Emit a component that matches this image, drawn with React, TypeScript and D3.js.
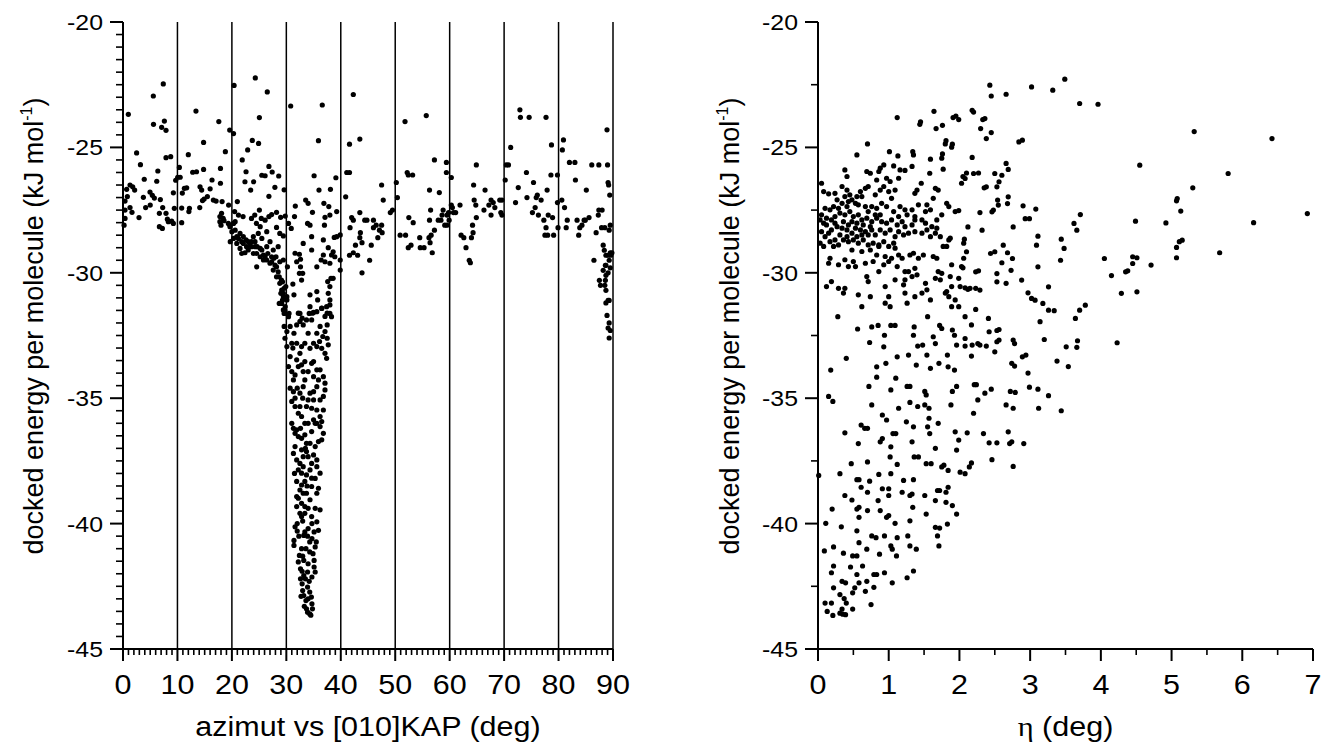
import React from 'react';
import * as d3 from 'd3';

// ---- data (x, docked energy in kJ/mol) ----

// left panel: azimut 0-30 deg
const azimutLow: [number, number][] = [
  [7.4,-22.47],[20.4,-22.53],[24.3,-22.23],[5.57,-22.95],[0.98,-23.68],[5.6,-24.08],[7.6,-23.95],[7.1,-24.2],[7.9,-24.32],
  [13.4,-23.55],[17.6,-23.97],[19.6,-24.31],[20.3,-24.45],[25.05,-23.81],[26.5,-22.79],[14.8,-24.8],[23.75,-24.72],[24.9,-24.84],
  [22.9,-25.1],[18.8,-25.17],[21.9,-25.5],[2.5,-25.22],[3.2,-25.69],[7.9,-25.41],[8.76,-25.37],[12.0,-25.29],[6.4,-25.94],
  [3.9,-26.27],[6.2,-26.35],[10.35,-25.8],[10.5,-26.19],[12.8,-25.99],[13.5,-25.97],[14.8,-25.88],[16.35,-26.3],[17.9,-25.84],
  [17.9,-26.43],[22.6,-25.97],[22.4,-26.37],[24.0,-26.37],[25.5,-26.11],[26.1,-26.13],[26.8,-25.76],[27.4,-25.98],[28.6,-26.14],
  [27.9,-26.59],[29.6,-26.69],[23.45,-26.7],[26.8,-26.95],[1.29,-26.5],[1.78,-26.57],[2.14,-26.7],[0.67,-26.67],[0.8,-26.96],
  [0.37,-27.14],[3.74,-26.99],[4.96,-26.78],[5.39,-26.91],[5.76,-27.02],[6.86,-27.08],[4.16,-27.4],[5.0,-27.3],[1.29,-27.4],
  [1.65,-27.59],[0.37,-27.5],[0.37,-27.83],[0.2,-28.1],[2.94,-27.8],[6.68,-28.16],[7.23,-28.23],[7.29,-27.4],[6.68,-27.63],
  [7.9,-27.63],[8.15,-27.86],[8.33,-27.96],[8.94,-27.94],[9.25,-28.03],[9.43,-27.43],[9.25,-26.81],[9.68,-26.31],[10.05,-26.19],
  [10.9,-26.82],[11.27,-26.63],[11.7,-26.61],[10.78,-27.42],[12.1,-27.56],[12.2,-27.43],[10.78,-28.0],[14.15,-26.57],[14.45,-26.7],
  [14.9,-27.06],[15.5,-26.96],[14.6,-27.12],[16.0,-26.65],[16.6,-27.1],[17.1,-27.14],[14.1,-27.4],[18.2,-27.16],[19.4,-27.3],
  [21.0,-27.16],[18.1,-27.63],[17.8,-27.76],[18.0,-28.1],[18.55,-27.92],[19.35,-28.03],[19.65,-28.16],[19.7,-28.76],[22.05,-27.76],
  [20.5,-27.56],[21.2,-27.7],[23.6,-27.83],[24.2,-27.7],[25.05,-27.5],[25.4,-27.83],[24.5,-28.03],[25.2,-28.16],[26.1,-27.9],
  [26.8,-27.76],[27.3,-27.68],[28.2,-27.59],[28.95,-27.79],[29.45,-28.53],[29.8,-27.74],
  [20.3,-28.03],[20.6,-28.3],[20.9,-28.56],[21.5,-28.43],[22.1,-28.83],[22.7,-28.96],[23.3,-28.83],[23.95,-28.56],[23.6,-28.76],
  [24.25,-28.96],[24.55,-29.23],[25.2,-29.36],[25.8,-29.49],[26.4,-29.49],[27.0,-29.62],[27.6,-29.89],[27.9,-29.69],[28.2,-30.16],
  [28.5,-29.96],[28.8,-30.42],[29.15,-30.69],[29.45,-30.95],[29.15,-31.22],[29.75,-31.49],[21.5,-29.03],[21.8,-29.23],[22.4,-29.2],
  [23.0,-29.09],[24.85,-28.43],[25.5,-28.63],[26.4,-28.36],[27.0,-28.76],[27.6,-29.09],[28.1,-29.36],[28.5,-28.96],[28.8,-29.56],
  [29.45,-29.49],[26.4,-28.96],[25.2,-29.03],[27.3,-29.36],[24.55,-29.76],[25.8,-29.29],[23.95,-29.23],[20.9,-28.83],[20.6,-27.96],
  [20.0,-28.36],[28.8,-28.43],[28.2,-28.19],[21.2,-28.63],[22.1,-28.56],[23.0,-28.76],[23.6,-28.96],[24.25,-28.76],[24.65,-28.96],
  [25.5,-29.09],[26.1,-29.36],[26.6,-29.23],[27.3,-29.56],[27.7,-29.42],[28.2,-29.76],[28.7,-30.16],[29.3,-30.36],[29.6,-30.62],
  [29.0,-30.82],[29.3,-31.09],[28.7,-31.22],[21.8,-28.76],[22.6,-28.69],[20.3,-28.63],[19.65,-28.1],[17.8,-27.96],[18.4,-27.83],
  [29.1,-30.29],[29.45,-30.82],[29.8,-31.35],[29.6,-31.62],
];

// left panel: the dip between 30 and 40 deg
const azimutDip: [number, number][] = [
  [30.8,-23.35],[36.6,-23.31],[35.9,-24.73],[35.1,-26.13],[39.1,-26.21],[36.0,-26.7],[38.1,-26.67],[31.65,-27.34],[33.55,-27.1],
  [34.0,-27.23],[36.9,-27.23],[37.8,-27.36],[34.8,-27.59],[31.5,-27.76],[30.4,-28.03],[30.9,-28.23],[37.1,-27.79],[38.0,-27.7],
  [39.25,-27.56],[33.9,-28.03],[34.35,-28.1],[37.0,-28.1],[34.65,-28.56],[33.1,-28.83],[36.8,-28.69],[38.8,-28.59],[39.25,-28.56],
  [39.9,-28.49],[34.65,-29.09],[37.7,-29.0],[38.3,-29.29],[38.9,-29.36],[38.6,-29.16],[36.8,-29.29],[36.4,-29.49],[37.1,-29.56],
  [38.0,-29.62],[39.9,-29.49],[39.9,-29.89],[35.6,-29.76],[31.6,-29.22],[32.4,-29.26],[31.9,-29.56],[32.6,-29.46],[32.6,-29.76],
  [32.4,-30.02],[32.8,-30.29],[33.0,-30.02],[31.2,-30.45],[31.4,-30.88],[30.5,-31.62],[32.5,-31.62],[34.35,-30.88],[35.6,-30.75],
  [35.75,-31.08],[36.5,-31.42],[35.0,-31.58],[34.2,-31.62],[37.6,-30.35],[38.2,-30.22],[38.6,-30.22],[38.0,-30.55],[37.7,-30.82],
  [38.0,-31.08],[37.4,-31.35],[38.0,-31.62],[38.3,-31.75],[30.2,-29.76],[29.9,-30.55],[30.1,-30.95],[30.1,-31.08],[30.4,-31.75],
  [29.75,-31.61],[29.6,-32.14],[30.1,-32.34],[30.7,-32.14],[31.4,-32.41],[31.9,-32.08],[32.5,-31.94],[32.9,-31.81],[32.2,-31.61],
  [34.35,-31.35],[34.8,-31.61],[35.6,-31.55],[36.5,-31.41],[37.1,-31.74],[37.5,-31.61],[38.0,-31.28],[37.5,-32.08],[37.1,-32.34],
  [36.7,-32.54],[37.5,-32.61],[37.7,-32.87],[36.1,-32.74],[35.6,-32.94],[36.5,-33.01],[37.1,-33.21],[37.4,-33.41],[35.0,-32.81],
  [33.4,-32.81],[32.8,-32.94],[31.9,-32.81],[30.1,-32.94],[31.0,-32.81],[29.75,-32.61],[30.7,-33.34],[30.4,-33.74],[31.0,-33.94],
  [31.6,-34.07],[31.3,-34.27],[31.9,-33.47],[32.8,-33.67],[33.4,-34.27],[33.4,-33.54],[34.65,-33.61],[35.0,-33.54],[36.2,-33.87],
  [36.8,-34.14],[37.1,-34.4],[37.1,-34.67],[36.8,-34.93],[35.6,-34.54],[35.0,-34.74],[34.35,-34.8],[30.7,-34.6],[31.3,-34.74],
  [31.6,-35.0],[31.0,-35.13],[31.6,-35.33],[32.5,-35.33],[32.2,-35.6],[33.7,-35.33],[34.65,-35.4],[35.6,-35.47],[36.8,-35.47],
  [36.2,-35.73],[36.5,-35.93],[36.2,-36.13],[31.0,-36.0],[31.3,-36.2],[31.6,-36.4],[32.2,-36.53],[32.8,-36.6],[33.4,-36.46],
  [33.7,-36.8],[34.65,-36.33],[35.9,-36.73],[36.5,-36.66],[36.8,-36.4],[31.6,-36.93],[31.3,-37.2],[31.9,-37.46],[32.5,-37.6],
  [33.1,-37.73],[32.8,-37.99],[32.2,-37.86],[31.9,-38.32],[34.0,-37.33],[34.65,-37.6],[35.0,-37.26],[35.6,-37.46],[36.2,-37.99],
  [34.65,-38.19],[33.7,-38.06],[32.5,-38.66],[33.1,-38.79],[32.2,-38.99],[32.8,-39.19],[33.4,-39.32],[31.9,-39.32],[32.5,-39.59],
  [33.4,-39.59],[34.35,-39.05],[35.6,-38.79],[35.9,-38.59],[35.3,-39.39],[36.2,-39.45],[34.65,-39.72],
  [31.2,-33.0],[32.0,-34.6],[33.0,-35.0],[35.3,-36.0],[34.0,-36.0],[32.6,-36.2],[33.5,-37.0],[35.3,-38.2],[33.8,-38.5],
  [31.5,-38.0],[32.0,-40.0],[33.0,-39.9],[34.0,-40.2],[32.3,-40.5],
  [29.45,-31.48],[33.1,-32.08],[33.7,-31.88],[34.65,-31.88],[36.2,-32.14],[35.6,-32.41],[34.0,-32.41],[34.35,-33.01],[32.5,-33.21],
  [32.2,-33.74],[33.1,-33.94],[34.0,-33.94],[35.0,-34.14],[35.6,-33.87],[35.9,-34.27],[33.1,-34.54],[32.5,-34.8],[34.0,-35.07],
  [35.0,-35.07],[36.2,-35.07],[32.8,-35.73],[33.4,-36.0],[35.0,-35.86],[35.6,-36.0],[31.9,-36.26],[34.35,-36.8],[35.3,-36.93],
  [32.8,-37.06],[33.7,-37.13],[33.1,-37.33],[34.35,-37.86],[35.6,-37.73],[33.4,-38.32],[32.8,-38.46],[34.65,-38.52],[33.7,-38.79],
  [31.9,-38.92],[34.0,-39.39],[32.8,-39.72],
];

// left panel: bottom of the dip, below -40
const azimutDipFloor: [number, number][] = [
  [34.7,-40.0],[35.1,-40.33],[33.2,-40.47],[31.4,-40.67],[34.7,-40.6],[32.8,-41.0],[35.3,-40.93],[34.3,-41.13],[32.4,-41.27],
  [33.2,-41.47],[35.1,-41.73],[32.6,-41.8],[33.9,-41.93],[33.2,-42.07],[34.7,-42.13],[32.9,-42.4],[33.9,-42.53],[34.3,-42.73],
  [33.2,-42.87],[33.6,-43.07],[34.7,-43.2],[33.7,-43.4],[34.3,-43.6],[33.9,-43.53],[34.8,-43.4],[31.4,-40.87],[35.9,-40.27],
  [35.6,-39.93],[31.6,-40.13],[33.4,-40.33],[34.3,-40.73],[35.5,-40.73],[32.2,-41.53],[35.1,-41.47],[33.6,-41.0],[33.0,-42.67],
  [32.6,-42.2],[35.3,-41.93],[34.6,-42.93],[32.0,-40.3],[33.9,-40.5],[34.9,-41.2],[33.0,-41.3],[34.0,-41.6],[32.9,-41.9],
  [34.2,-42.3],[33.5,-42.2],[32.7,-42.9],[34.0,-43.0],[33.3,-43.3],[34.5,-43.65],
];

// left panel: azimut 40-90 deg
const azimutHigh: [number, number][] = [
  [42.3,-22.89],[41.6,-24.87],[43.5,-24.67],[40.9,-26.97],[41.1,-26.0],[41.6,-26.0],[42.0,-27.8],[42.3,-27.9],[41.7,-28.2],
  [43.5,-27.6],[44.4,-27.9],[41.6,-29.3],[42.3,-29.2],[43.1,-29.3],[42.7,-28.9],[43.5,-28.6],[43.9,-28.8],[43.6,-28.4],
  [43.9,-30.0],[45.3,-29.5],[45.6,-28.9],[44.8,-27.9],[46.0,-28.2],[46.5,-28.1],[47.1,-28.3],[47.5,-28.1],[46.8,-28.6],
  [47.6,-28.4],[46.0,-27.9],[47.5,-26.5],[47.8,-27.1],[49.1,-27.6],[49.5,-27.5],[50.2,-26.4],[50.4,-27.0],[51.8,-23.97],
  [52.2,-26.0],[52.4,-26.1],[53.2,-26.1],[50.9,-28.5],[51.9,-28.5],[52.5,-27.8],[53.3,-28.0],[52.4,-29.0],[52.9,-28.9],
  [54.5,-28.6],[54.6,-29.0],[55.3,-29.0],[55.7,-23.73],[56.3,-26.7],[56.5,-27.5],[56.3,-27.9],[57.2,-25.5],[58.1,-26.8],
  [56.2,-28.6],[56.6,-28.5],[56.4,-28.8],[56.8,-29.2],[57.2,-28.3],[58.4,-27.9],[58.6,-27.7],[58.8,-27.5],[59.1,-28.1],
  [57.9,-27.9],[59.4,-25.6],[59.4,-26.0],[59.5,-27.7],[59.8,-27.6],[59.9,-27.9],[60.3,-27.3],[60.5,-27.4],[60.3,-26.2],
  [60.7,-27.6],[61.1,-27.6],[59.5,-28.1],[61.9,-27.3],[62.1,-28.5],[62.6,-28.6],[63.0,-29.0],[63.6,-29.5],[63.8,-29.6],
  [64.0,-28.6],[64.3,-28.4],[64.2,-28.1],[64.4,-26.5],[64.9,-25.7],[64.5,-27.1],[64.8,-27.3],[64.9,-27.8],[66.5,-26.7],
  [66.3,-27.5],[67.2,-27.3],[67.6,-27.1],[67.6,-27.7],[68.3,-27.4],[68.0,-27.2],[69.2,-27.1],[69.6,-27.1],[69.4,-27.6],
  [69.6,-27.7],[70.2,-26.3],[70.4,-25.7],[70.8,-25.7],[71.2,-25.0],[72.1,-27.2],[72.6,-26.6],[72.9,-23.5],[73.0,-23.8],
  [74.1,-26.0],[74.6,-23.8],[74.2,-27.0],[75.4,-26.4],[75.9,-27.0],[76.1,-26.9],[75.2,-27.6],[75.7,-27.4],[76.3,-27.7],
  [76.8,-27.1],[77.7,-23.8],[77.3,-27.9],[77.9,-26.7],[78.1,-27.7],[77.7,-28.2],[77.5,-28.5],[78.0,-28.5],[78.9,-27.8],
  [78.7,-24.9],[78.6,-26.1],[79.1,-28.5],[79.8,-26.1],[79.8,-27.2],[79.9,-28.2],[80.9,-24.7],[80.7,-25.1],[80.6,-27.1],
  [81.1,-27.4],[81.6,-27.9],[81.4,-28.2],[82.0,-25.6],[83.0,-25.6],[83.1,-26.3],[83.4,-27.9],[83.9,-28.2],[83.7,-28.5],
  [84.3,-28.1],[84.7,-27.9],[85.1,-26.7],[84.9,-27.9],[85.6,-27.8],[86.1,-25.7],[86.5,-29.5],[86.9,-28.4],[87.4,-25.7],
  [87.3,-27.7],[87.4,-27.5],[87.5,-30.3],[87.7,-30.5],[87.9,-28.2],[88.0,-27.5],[88.2,-28.9],[88.4,-29.1],[88.5,-28.2],
  [88.6,-29.7],[88.7,-30.1],[88.9,-24.3],[89.0,-25.7],[89.1,-26.4],[89.2,-26.5],[89.3,-28.3],[89.4,-26.9],[89.5,-28.1],
  [88.7,-29.3],[89.1,-29.3],[89.5,-29.2],[89.3,-29.5],[88.7,-29.7],[88.2,-29.9],[88.6,-30.3],[89.1,-30.0],[89.5,-29.8],
  [88.5,-30.5],[88.7,-30.7],[89.1,-31.1],[88.7,-31.2],[89.3,-31.1],[88.9,-31.7],[89.3,-32.0],[89.1,-32.2],[89.5,-32.3],
  [89.3,-32.6],[89.6,-29.3],[89.8,-29.2],
];

// right panel: eta 0-2 deg, energy above -31.5
const etaCore: [number, number][] = [
  [0.70,-24.86],[0.55,-25.3],[1.01,-25.17],[1.13,-25.34],[1.34,-25.17],[1.35,-25.3],[1.59,-25.47],[1.80,-24.86],[1.89,-24.99],
  [1.76,-25.26],[1.75,-25.43],[1.77,-25.87],[2.05,-26.16],[2.03,-26.43],[1.58,-26.03],[1.46,-26.43],[1.33,-25.76],[1.23,-25.92],
  [1.16,-25.9],[1.14,-26.23],[1.07,-25.74],[0.93,-25.7],[0.88,-25.83],[0.83,-26.3],[0.86,-25.96],[0.97,-26.23],[1.02,-26.36],
  [0.74,-26.03],[0.69,-25.96],[0.38,-25.9],[0.41,-26.16],[0.05,-26.43],[0.08,-26.76],[0.15,-26.85],[0.34,-26.56],[0.41,-26.7],
  [0.45,-26.89],[0.48,-27.09],[0.60,-26.76],[0.62,-26.96],[0.67,-26.63],[0.71,-26.56],[0.81,-26.89],[0.88,-26.7],[0.93,-26.56],
  [1.0,-26.76],[1.04,-27.03],[1.09,-26.7],[1.37,-26.83],[1.40,-26.7],[1.66,-26.63],[1.70,-26.7],[1.63,-27.03],[1.54,-27.29],
  [1.42,-27.29],[1.82,-27.23],[1.85,-27.36],[1.94,-27.56],[1.99,-27.52],[1.75,-27.69],[1.59,-27.49],[1.52,-27.56],[1.33,-27.49],
  [1.23,-27.49],[1.26,-27.69],[1.37,-27.76],[1.16,-27.36],[1.14,-27.76],[1.07,-27.56],[0.97,-27.36],[0.90,-27.23],[0.83,-27.43],
  [0.76,-27.36],[0.71,-27.56],[0.67,-27.36],[0.57,-27.29],[0.53,-27.23],[0.43,-27.16],[0.34,-27.23],[0.27,-27.09],[0.22,-27.36],
  [0.17,-27.49],[0.10,-27.43],[0.03,-27.89],[0.08,-28.02],[0.12,-27.82],[0.19,-27.89],[0.24,-27.76],[0.31,-27.62],[0.38,-27.69],
  [0.45,-27.56],[0.50,-27.76],[0.57,-27.69],[0.62,-27.89],[0.69,-27.82],[0.76,-27.96],[0.83,-27.82],[0.90,-27.96],[0.97,-28.02],
  [1.04,-27.89],[1.12,-28.09],[1.19,-27.96],[1.23,-28.16],[1.33,-28.09],[1.37,-27.89],[1.47,-27.89],[1.52,-28.02],[1.61,-28.16],
  [1.68,-28.22],[1.68,-27.89],[2.06,-28.82],[2.06,-29.42],[2.03,-29.75],[1.89,-29.68],[1.85,-28.69],[1.87,-28.62],[1.82,-28.95],
  [1.77,-28.95],[1.73,-28.56],[1.66,-28.42],[1.59,-28.56],[1.54,-28.29],[1.47,-28.42],[1.37,-28.36],[1.28,-28.42],[1.21,-28.49],
  [1.14,-28.36],[1.09,-28.56],[1.07,-28.82],[1.09,-29.02],[1.02,-28.29],[0.95,-28.42],[0.88,-28.29],[0.81,-28.49],[0.76,-28.29],
  [0.71,-28.49],[0.67,-28.36],[0.60,-28.29],[0.53,-28.22],[0.48,-28.42],[0.41,-28.29],[0.34,-28.22],[0.27,-28.16],[0.19,-28.29],
  [0.15,-28.42],[0.10,-28.56],[0.05,-28.36],[0.03,-28.82],[0.08,-28.95],[0.17,-28.76],[0.24,-28.69],[0.29,-28.89],[0.36,-28.69],
  [0.43,-28.76],[0.50,-28.69],[0.57,-28.82],[0.64,-28.69],[0.71,-28.89],[0.78,-28.82],[0.86,-28.89],[0.93,-28.76],[1.0,-28.95],
  [0.48,-29.09],[0.62,-29.15],[0.74,-29.09],[0.83,-29.29],[0.95,-29.35],[1.04,-29.42],[1.14,-29.29],[1.19,-29.42],[1.30,-29.29],
  [1.35,-29.22],[1.42,-29.42],[1.49,-29.29],[1.63,-29.35],[1.68,-29.42],[0.17,-29.42],[0.15,-29.62],[0.29,-29.68],[0.38,-29.48],
  [0.43,-29.75],[0.50,-29.55],[0.53,-29.75],[0.67,-29.62],[0.78,-29.55],[0.86,-29.95],[0.93,-29.68],[1.0,-29.55],[1.12,-29.75],
  [1.23,-29.95],[1.28,-29.95],[1.37,-29.82],[1.40,-30.08],[1.33,-30.15],[1.23,-30.28],[1.21,-30.48],[1.09,-30.28],[0.95,-30.55],
  [0.69,-30.15],[0.71,-30.35],[0.12,-30.55],[0.19,-30.35],[0.29,-30.62],[0.38,-30.62],[0.36,-30.81],[0.57,-30.88],[0.74,-30.95],
  [0.62,-31.35],[0.95,-31.21],[1.0,-30.95],[1.02,-31.35],[1.23,-30.81],[1.26,-31.21],[1.37,-30.95],[1.47,-30.81],[1.52,-30.42],
  [1.54,-30.68],[1.59,-31.08],[1.66,-30.22],[1.70,-29.95],[1.73,-30.28],[1.75,-30.02],[1.82,-30.75],[1.87,-30.15],[1.89,-30.55],
  [1.99,-30.22],[2.01,-30.55],[1.80,-30.81],[1.85,-30.95],[1.89,-31.35],[1.94,-31.08],
  [0.24,-28.02],[0.36,-27.96],[0.43,-28.09],[0.55,-28.02],[0.64,-28.09],[0.74,-28.16],[0.31,-28.49],[0.41,-28.56],[0.55,-28.56],
  [0.62,-28.49],[0.12,-28.09],[0.05,-27.69],[0.29,-27.43],[0.41,-27.36],[0.48,-27.96],[0.22,-28.95],[0.88,-27.69],[0.81,-27.69],
  [0.38,-26.96],[0.24,-26.83],[0.55,-26.96],[0.86,-28.95],
];

// right panel: top part and the sparse points beyond eta = 2
const etaUpper: [number, number][] = [
  [2.43,-22.52],[2.45,-22.95],[2.66,-22.88],[3.02,-22.59],[3.32,-22.72],[3.49,-22.28],[3.70,-23.25],[3.96,-23.28],[1.12,-23.81],
  [1.45,-23.98],[1.44,-24.08],[1.64,-23.56],[1.67,-24.25],[1.76,-24.12],[1.91,-23.81],[1.95,-23.75],[1.99,-23.89],[2.20,-23.59],
  [2.18,-23.52],[2.33,-23.89],[2.36,-23.85],[2.30,-24.25],[2.38,-24.65],[2.45,-24.41],[2.84,-24.78],[2.89,-24.71],[1.81,-24.73],
  [1.90,-24.87],[5.32,-24.37],[6.42,-24.65],[4.55,-25.71],[5.80,-26.04],[6.92,-27.64],[5.30,-26.61],[5.08,-27.04],[5.07,-27.13],
  [5.13,-27.54],[6.16,-28.0],[5.68,-29.2],[4.49,-27.94],[4.92,-28.01],[5.15,-28.7],[5.11,-28.76],[5.07,-28.99],[5.07,-29.4],
  [4.71,-29.69],[4.51,-29.4],[4.45,-29.63],[4.45,-29.36],[4.38,-29.92],[4.35,-29.96],[4.29,-30.82],[4.51,-30.76],[4.05,-29.43],
  [4.15,-30.11],[4.23,-32.79],[3.71,-27.68],[3.66,-28.3],[3.62,-28.03],[3.44,-28.66],[3.48,-29.03],[3.43,-29.5],[3.26,-30.56],
  [3.11,-29.76],[3.09,-28.9],[3.11,-28.54],[3.08,-27.46],[2.90,-27.33],[2.93,-27.84],[2.99,-27.84],[2.76,-28.17],[2.88,-30.29],
  [2.97,-30.8],[3.02,-31.02],[3.07,-31.09],[3.18,-31.22],[3.26,-31.49],[3.34,-31.51],[3.14,-31.95],[3.2,-32.66],[3.51,-32.95],
  [3.66,-32.97],[3.67,-32.71],[3.64,-31.82],[3.70,-31.49],[3.78,-31.29],[3.38,-33.52],[3.54,-33.74],[2.68,-27.24],[2.69,-26.97],
  [2.66,-25.64],[2.69,-25.88],[2.6,-26.11],[2.5,-26.04],[2.56,-26.37],[2.53,-26.57],[2.38,-26.57],[2.35,-26.61],[2.54,-27.1],
  [2.55,-27.3],[2.48,-27.5],[2.46,-27.57],[2.27,-26.02],[2.29,-27.6],[2.32,-28.3],[2.44,-29.23],[2.5,-29.16],[2.62,-28.9],
  [2.68,-29.2],[2.6,-29.6],[2.75,-29.43],[2.73,-29.9],[2.53,-30.03],[2.53,-30.36],[2.66,-30.42],[2.76,-32.68],[2.78,-32.82],
  [2.94,-33.28],[2.97,-34.0],[2.78,-33.72],[2.56,-32.26],[2.56,-32.68],[2.53,-32.3],[2.41,-31.82],[2.42,-32.35],[2.26,-32.82],
  [2.23,-31.46],[2.17,-32.08],[2.18,-32.88],[2.08,-32.62],[2.08,-31.75],[1.99,-31.35],[2.15,-30.62],[2.23,-30.62],[2.29,-30.69],
  [2.08,-30.6],[2.12,-30.66],[2.23,-29.96],[2.27,-29.92],[2.05,-29.8],[2.1,-29.16],[2.07,-28.66],[2.12,-28.17],[2.08,-26.24],
  [2.1,-26.02],[2.18,-25.4],[2.2,-26.04],
  [0.28,-31.75],[0.4,-33.41],[0.56,-32.24],[0.73,-32.78],[0.76,-32.16],[0.85,-32.1],[0.94,-32.49],[0.93,-32.95],[1.03,-32.1],
  [1.09,-32.1],[1.12,-33.35],[1.28,-33.28],[1.36,-32.16],[1.35,-32.49],[1.41,-32.92],[1.48,-32.88],[1.39,-33.68],[1.54,-33.28],
  [1.55,-31.75],[1.66,-32.82],[1.63,-32.55],[1.72,-32.1],[1.75,-32.22],[1.83,-33.28],[1.84,-33.75],[1.9,-32.28],[1.93,-32.49],
  [1.96,-32.88],[1.93,-33.88],[2.08,-32.92],[2.17,-33.32],[2.29,-32.88],[2.38,-32.92],[2.5,-33.15],[2.53,-32.75],[2.89,-33.35],
  [2.74,-33.61],[1.59,-33.81],[0.18,-33.88],[0.83,-33.75],[0.96,-33.61],[1.71,-33.61],
];

// right panel: energies below -34
const etaLower: [number, number][] = [
  [0.15,-34.93],[0.21,-35.13],[0.72,-34.53],[0.83,-34.16],[1.03,-34.67],[1.1,-34.2],[1.26,-34.53],[1.3,-34.53],[0.76,-35.27],
  [0.91,-35.67],[0.97,-35.87],[1.14,-35.4],[1.25,-35.94],[1.3,-35.17],[1.35,-36.14],[1.41,-35.33],[1.51,-34.73],[1.53,-34.87],
  [1.51,-35.27],[1.57,-35.4],[1.57,-35.8],[1.55,-36.14],[1.7,-36.0],[1.58,-36.41],[1.88,-35.27],[1.9,-34.73],[1.96,-34.53],
  [2.2,-35.6],[2.26,-35.07],[2.36,-34.8],[2.45,-34.64],[2.21,-34.46],[2.24,-34.46],[2.66,-35.27],[2.76,-35.4],[2.72,-34.73],
  [2.79,-34.77],[2.99,-34.56],[3.11,-34.64],[3.26,-34.9],[3.12,-35.4],[3.44,-35.5],[0.61,-36.07],[0.66,-36.2],[0.7,-36.2],
  [0.38,-36.38],[0.57,-36.81],[0.47,-37.61],[0.7,-37.54],[0.91,-36.61],[0.88,-36.74],[1.06,-36.41],[1.1,-36.41],[1.03,-36.94],
  [1.02,-37.34],[1.12,-37.64],[1.33,-36.74],[1.36,-37.34],[1.42,-37.34],[1.53,-37.61],[1.6,-37.61],[1.66,-37.0],[1.75,-37.74],
  [1.78,-37.67],[1.84,-37.88],[1.94,-36.34],[1.99,-36.67],[1.96,-37.07],[2.01,-37.95],[2.08,-38.01],[2.14,-37.74],[2.17,-37.58],
  [2.11,-36.38],[2.34,-36.41],[2.42,-36.78],[2.53,-36.78],[2.46,-37.45],[2.69,-36.34],[2.71,-36.81],[2.74,-36.74],[2.76,-37.72],
  [2.91,-36.81],[0.31,-38.01],[0.01,-38.08],[0.55,-38.25],[0.58,-38.25],[0.73,-38.31],[0.86,-38.04],[1.03,-38.01],[1.21,-38.28],
  [1.35,-38.25],[0.61,-38.55],[0.38,-38.88],[0.48,-39.06],[0.7,-38.75],[0.91,-38.61],[1.0,-38.61],[0.85,-39.08],[1.0,-38.88],
  [1.19,-38.75],[1.3,-38.88],[1.33,-38.82],[1.51,-38.88],[1.69,-38.68],[1.72,-38.68],[1.84,-38.55],[1.81,-38.75],[1.66,-39.08],
  [1.81,-39.15],[1.9,-39.28],[1.96,-39.62],[0.55,-39.42],[0.58,-39.35],[0.7,-39.48],[0.88,-39.48],[1.0,-39.68],[0.97,-39.75],
  [1.09,-39.99],[1.3,-39.89],[1.34,-39.35],[1.53,-39.62],[0.11,-39.99],[0.2,-39.42],[0.33,-40.13],[0.55,-40.29],[0.58,-39.75],
  [0.76,-40.49],[0.82,-40.56],[0.94,-40.49],[1.03,-40.89],[1.12,-40.56],[1.27,-40.49],[1.3,-40.89],[1.39,-41.02],[1.66,-40.15],
  [1.72,-40.18],[1.69,-40.49],[1.71,-40.89],[1.83,-40.02],[0.09,-41.09],[0.22,-40.93],[0.36,-41.18],[0.49,-41.29],[0.55,-41.29],
  [0.58,-40.76],[0.69,-41.02],[0.87,-41.22],[1.05,-41.02],[1.11,-41.29],[0.22,-41.69],[0.19,-41.96],[0.34,-42.3],[0.39,-42.36],
  [0.46,-41.73],[0.55,-42.03],[0.63,-41.69],[0.58,-42.36],[0.69,-42.3],[0.79,-42.03],[0.83,-42.03],[0.94,-41.96],[1.05,-42.36],
  [1.26,-42.16],[1.35,-41.89],[0.22,-42.56],[0.49,-42.76],[0.52,-42.56],[0.31,-42.83],[0.37,-42.99],[0.4,-43.17],[0.67,-42.7],
  [0.79,-42.54],[0.75,-43.23],[0.1,-43.17],[0.19,-43.17],[0.13,-43.5],[0.21,-43.66],[0.31,-43.57],[0.35,-43.61],[0.39,-43.63],
  [0.49,-43.41],[0.34,-43.41],
];

const energyTicks = [-20, -25, -30, -35, -40, -45];
const azimutTicks = [0, 10, 20, 30, 40, 50, 60, 70, 80, 90];
const etaTicks = [0, 1, 2, 3, 4, 5, 6, 7];

const FONT = "'Liberation Sans', Arial, Helvetica, sans-serif";
const PLOT_TOP = 22;
const PLOT_BOTTOM = 649;
// the reference figure is slightly stretched sideways
const STRETCH = 1.13;

const energyScale = d3.scaleLinear().domain([-20, -45]).range([PLOT_TOP, PLOT_BOTTOM]);
const azimutScale = d3.scaleLinear().domain([0, 90]).range([123, 613]);
const etaScale = d3.scaleLinear().domain([0, 7]).range([818, 1313]);

const Dots = ({ points, x }: { points: [number, number][]; x: d3.ScaleLinear<number, number> }) => (
  <g fill="#000">
    {points.map((p, i) => (
      <circle key={i} cx={x(p[0])} cy={energyScale(p[1])} r={2.6} />
    ))}
  </g>
);

const Label = ({ x, y, size, anchor = 'middle', children }: {
  x: number; y: number; size: number; anchor?: string; children: React.ReactNode;
}) => (
  <g transform={`translate(${x},${y}) scale(${STRETCH},1)`}>
    <text textAnchor={anchor} fontSize={size} fontFamily={FONT}>{children}</text>
  </g>
);

const EnergyAxis = ({ x0, minorStep, titleX }: { x0: number; minorStep: number; titleX: number }) => {
  const minors = d3.range(-20, -45.001, -minorStep).filter(v => !energyTicks.includes(Math.round(v * 100) / 100));
  return (
    <g>
      <line x1={x0} x2={x0} y1={PLOT_TOP} y2={PLOT_BOTTOM} stroke="#000" strokeWidth={2} />
      {minors.map(v => (
        <line key={v} x1={x0 - 7} x2={x0} y1={energyScale(v)} y2={energyScale(v)} stroke="#000" strokeWidth={1.6} />
      ))}
      {energyTicks.map(v => (
        <g key={v}>
          <line x1={x0 - 13} x2={x0} y1={energyScale(v)} y2={energyScale(v)} stroke="#000" strokeWidth={2} />
          <Label x={x0 - 20} y={energyScale(v) + 8} size={22} anchor="end">{v}</Label>
        </g>
      ))}
      <text transform={`translate(${titleX},326) rotate(-90)`} textAnchor="middle" fontSize={27} fontFamily={FONT}>
        docked energy per molecule (kJ mol<tspan dy={-11} fontSize={16}>-1</tspan><tspan dy={11}>)</tspan>
      </text>
    </g>
  );
};

const BottomAxis = ({ x, ticks, minors, title }: {
  x: d3.ScaleLinear<number, number>; ticks: number[]; minors: number[]; title: React.ReactNode;
}) => {
  const [r0, r1] = x.range();
  return (
    <g>
      <line x1={r0} x2={r1} y1={PLOT_BOTTOM} y2={PLOT_BOTTOM} stroke="#000" strokeWidth={2} />
      {minors.map(v => (
        <line key={v} x1={x(v)} x2={x(v)} y1={PLOT_BOTTOM} y2={PLOT_BOTTOM + 6} stroke="#000" strokeWidth={1.6} />
      ))}
      {ticks.map(v => (
        <g key={v}>
          <line x1={x(v)} x2={x(v)} y1={PLOT_BOTTOM} y2={PLOT_BOTTOM + 12} stroke="#000" strokeWidth={2} />
          <Label x={x(v)} y={694} size={27}>{v}</Label>
        </g>
      ))}
      <Label x={(r0 + r1) / 2} y={736} size={27}>{title}</Label>
    </g>
  );
};

export default function App() {
  const azimutMinors = d3.range(0, 91, 1).filter(v => v % 10 !== 0);
  const etaMinors = d3.range(0.5, 7, 1);
  const gridLines = azimutTicks.filter(v => v > 0);

  return (
    <svg width={1322} height={752} style={{ position: 'absolute', left: 0, top: 0, background: '#fff' }}>
      <rect width={1322} height={752} fill="#fff" />

      {/* left panel: energy vs azimut */}
      <g>
        {gridLines.map(v => (
          <line key={v} x1={azimutScale(v)} x2={azimutScale(v)} y1={PLOT_TOP} y2={PLOT_BOTTOM} stroke="#000" strokeWidth={1.5} />
        ))}
        <Dots points={azimutLow} x={azimutScale} />
        <Dots points={azimutDip} x={azimutScale} />
        <Dots points={azimutDipFloor} x={azimutScale} />
        <Dots points={azimutHigh} x={azimutScale} />
        <EnergyAxis x0={azimutScale(0)} minorStep={0.5} titleX={43} />
        <BottomAxis x={azimutScale} ticks={azimutTicks} minors={azimutMinors} title="azimut vs [010]KAP (deg)" />
      </g>

      {/* right panel: energy vs eta */}
      <g>
        <Dots points={etaCore} x={etaScale} />
        <Dots points={etaUpper} x={etaScale} />
        <Dots points={etaLower} x={etaScale} />
        <EnergyAxis x0={etaScale(0)} minorStep={2.5} titleX={739} />
        <BottomAxis x={etaScale} ticks={etaTicks} minors={etaMinors}
          title={<><tspan fontFamily="'Liberation Serif', 'DejaVu Serif', serif">η</tspan> (deg)</>} />
      </g>
    </svg>
  );
}
